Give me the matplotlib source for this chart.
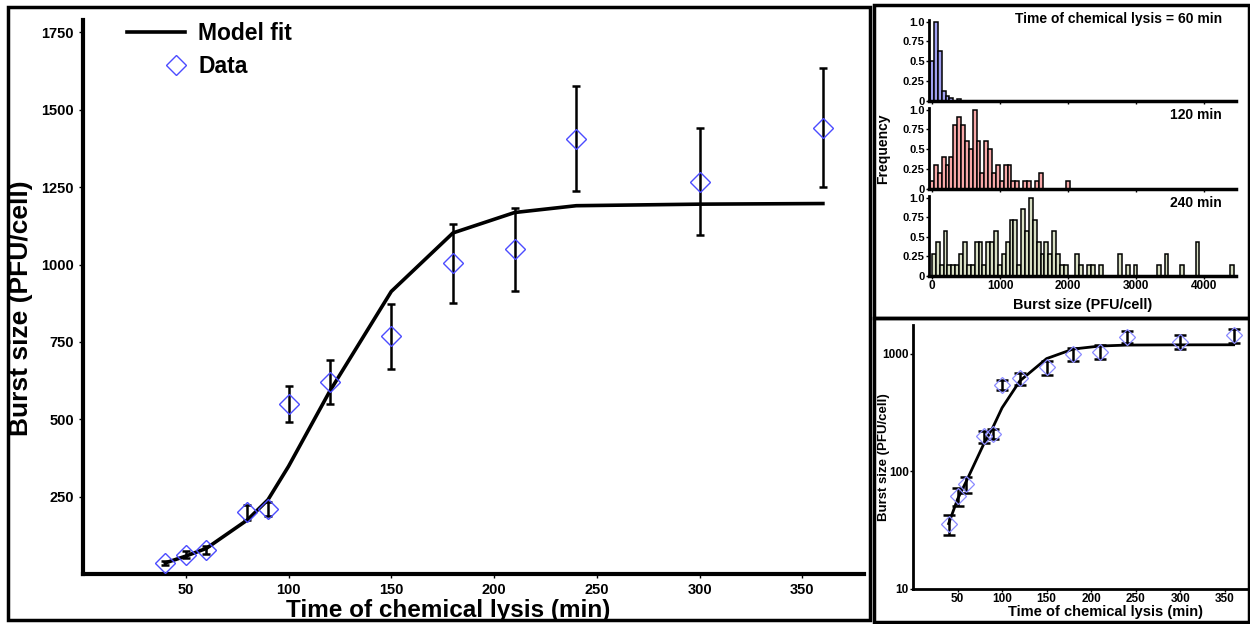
import matplotlib.pyplot as plt
import numpy as np
from matplotlib.patches import Rectangle
from matplotlib.legend_handler import HandlerLine2D

# ---- data ----
time_min = [40, 50, 60, 80, 90, 100, 120, 150, 180, 210, 240, 300, 360]
burst_data = [36, 62, 78, 199, 210, 549, 621, 768, 1004, 1049, 1406, 1268, 1442]
burst_err = [7, 11, 12, 24, 22, 57, 72, 106, 128, 135, 170, 173, 192]
model_fit = [36, 58, 83, 175, 240, 348, 590, 913, 1102, 1168, 1190, 1195, 1197]

bin_width = 57
freq_60 = [0.5, 1.0, 0.63, 0.13, 0.06, 0.04, 0, 0.02]
counts_120 = [1, 3, 2, 4, 3, 4, 8, 9, 8, 6, 5, 10, 6, 2, 6, 5, 2, 3, 1, 3,
              3, 1, 1, 0, 1, 1, 0, 1, 2, 0, 0, 0, 0, 0, 0, 1]
counts_240 = [2, 3, 1, 4, 1, 1, 1, 2, 3, 1, 1, 3, 3, 1, 3, 3, 4, 1, 2, 3,
              5, 5, 1, 6, 4, 7, 5, 3, 2, 3, 2, 4, 2, 1, 1, 0, 0, 2, 1, 0,
              1, 1, 0, 1, 0, 0, 0, 0, 2, 0, 1, 0, 1, 0, 0, 0, 0, 0, 1, 0,
              2, 0, 0, 0, 1, 0, 0, 0, 3, 0, 0, 0, 0, 0, 0, 0, 0, 1]
hist_labels = ["Time of chemical lysis = 60 min", "120 min", "240 min"]
hist_colors = ["#a0a0f0", "#f7a8a8", "#d8dfc4"]

main_yticks = [250, 500, 750, 1000, 1250, 1500, 1750]
time_ticks = [50, 100, 150, 200, 250, 300, 350]
hist_xticks = [0, 1000, 2000, 3000, 4000]
freq_ticks = [0, 0.25, 0.5, 0.75, 1.0]
freq_ticklabels = ["0", "0.25", "0.5", "0.75", "1.0"]

plt.rcParams['font.family'] = ['Liberation Sans', 'DejaVu Sans']
plt.rcParams['font.weight'] = 'bold'


class ShiftedMarker(HandlerLine2D):
    # legend marker sits near the right end of the handle, like the original
    def create_artists(self, legend, orig_handle, xdescent, ydescent,
                       width, height, fontsize, trans):
        arts = super().create_artists(legend, orig_handle, xdescent, ydescent,
                                      width, height, fontsize, trans)
        for a in arts:
            a.set_xdata(np.asarray(a.get_xdata()) + 0.35 * width)
        return arts


fig = plt.figure(figsize=(12.5, 6.24), dpi=100)

# ---- main linear plot ----
ax = fig.add_axes([0.0664, 0.080, 0.6248, 0.888])
ax.errorbar(time_min, burst_data, yerr=burst_err, fmt='none', ecolor='black',
            elinewidth=1.8, capsize=3, capthick=1.8, zorder=2)
fit_line, = ax.plot(time_min, model_fit, color='black', lw=2.6,
                    label='Model fit', zorder=3)
data_pts, = ax.plot(time_min, burst_data, linestyle='', marker='D',
                    markersize=10, markerfacecolor='none',
                    markeredgecolor='#4c4cff', markeredgewidth=1.0,
                    label='Data', zorder=4)
ax.set_xlim(0, 380)
ax.set_ylim(0, 1790)
ax.set_xticks(time_ticks)
ax.set_yticks(main_yticks)
ax.tick_params(length=3, width=1, labelsize=10.5)
for lab in ax.get_xticklabels() + ax.get_yticklabels():
    lab.set_fontweight('bold')
ax.spines['top'].set_visible(False)
ax.spines['right'].set_visible(False)
ax.spines['left'].set_linewidth(3)
ax.spines['bottom'].set_linewidth(3)
ax.set_xlabel("Time of chemical lysis (min)", fontsize=17.5, fontweight='bold')
ax.xaxis.set_label_coords(0.467, -0.045)
ax.set_ylabel("Burst size (PFU/cell)", fontsize=19, fontweight='bold')
ax.yaxis.set_label_coords(-0.064, 0.48)
ax.legend(handles=[fit_line, data_pts], loc='upper left', frameon=False,
          fontsize=16.5, handlelength=2.5, handletextpad=0.6,
          borderaxespad=0.0, bbox_to_anchor=(0.045, 1.013), labelspacing=0.45,
          handler_map={data_pts: ShiftedMarker()})

# ---- histograms ----
hist_sets = [freq_60, np.array(counts_120) / max(counts_120),
             np.array(counts_240) / max(counts_240)]
hist_starts = [-28, -28, 0]
hist_pos = [[0.7432, 0.838, 0.2456, 0.130],
            [0.7432, 0.697, 0.2456, 0.130],
            [0.7432, 0.5577, 0.2456, 0.1283]]
label_y = [1.1, 1.0, 1.0]
for i in range(3):
    h = fig.add_axes(hist_pos[i])
    vals = hist_sets[i]
    lefts = hist_starts[i] + bin_width * np.arange(len(vals))
    h.bar(lefts, vals, width=bin_width, align='edge', color=hist_colors[i],
          edgecolor='black', linewidth=1.1)
    h.set_xlim(-44, 4470)
    h.set_ylim(0, 1.02)
    h.set_xticks(hist_xticks)
    h.set_yticks(freq_ticks)
    h.set_yticklabels(freq_ticklabels, fontsize=8, fontweight='bold')
    h.spines['top'].set_visible(False)
    h.spines['right'].set_visible(False)
    h.spines['left'].set_linewidth(2)
    h.spines['bottom'].set_linewidth(2.5)
    h.tick_params(length=2, width=1, pad=1)
    h.text(0.954, label_y[i], hist_labels[i], transform=h.transAxes,
           ha='right', va='top', fontsize=10, fontweight='bold')
    if i < 2:
        h.set_xticklabels([])
    else:
        h.set_xticklabels([str(t) for t in hist_xticks], fontsize=8.5,
                          fontweight='bold')
        h.set_xlabel("Burst size (PFU/cell)", fontsize=10.4, fontweight='bold',
                     labelpad=4)
    if i == 1:
        h.set_ylabel("Frequency", fontsize=10, fontweight='bold')
        h.yaxis.set_label_coords(-0.127, 0.5)

# ---- log plot ----
lg = fig.add_axes([0.7304, 0.0561, 0.2672, 0.4229])
lg.errorbar(time_min, burst_data, yerr=burst_err, fmt='none', ecolor='black',
            elinewidth=1.8, capsize=4.5, capthick=1.8, zorder=2)
lg.plot(time_min, model_fit, color='black', lw=2, zorder=3)
lg.plot(time_min, burst_data, linestyle='', marker='D', markersize=8,
        markerfacecolor='none', markeredgecolor='#8a8aff', markeredgewidth=0.9,
        zorder=4)
lg.set_yscale('log')
lg.set_xlim(0, 375)
lg.set_ylim(10, 1760)
lg.set_xticks(time_ticks)
lg.set_yticks([10, 100, 1000])
lg.set_yticklabels(["10", "100", "1000"])
lg.minorticks_off()
lg.tick_params(labelsize=8.5, length=2, width=1, pad=1)
for lab in lg.get_xticklabels() + lg.get_yticklabels():
    lab.set_fontweight('bold')
lg.spines['top'].set_visible(False)
lg.spines['right'].set_visible(False)
lg.spines['left'].set_linewidth(2)
lg.spines['bottom'].set_linewidth(2)
lg.set_xlabel("Time of chemical lysis (min)", fontsize=10.5, fontweight='bold')
lg.xaxis.set_label_coords(0.575, -0.062)
lg.set_ylabel("Burst size (PFU/cell)", fontsize=9.5, fontweight='bold')
lg.yaxis.set_label_coords(-0.069, 0.5)

# ---- panel frames ----
frames = [(8, 4, 862, 613), (874, 306, 375, 313), (874, 2, 375, 304)]
for x0, y0, w, hgt in frames:
    fig.add_artist(Rectangle((x0 / 1250, y0 / 624), w / 1250, hgt / 624,
                             transform=fig.transFigure, fill=False,
                             edgecolor='black', linewidth=2.5))

fig.savefig("out.png", dpi=100)
